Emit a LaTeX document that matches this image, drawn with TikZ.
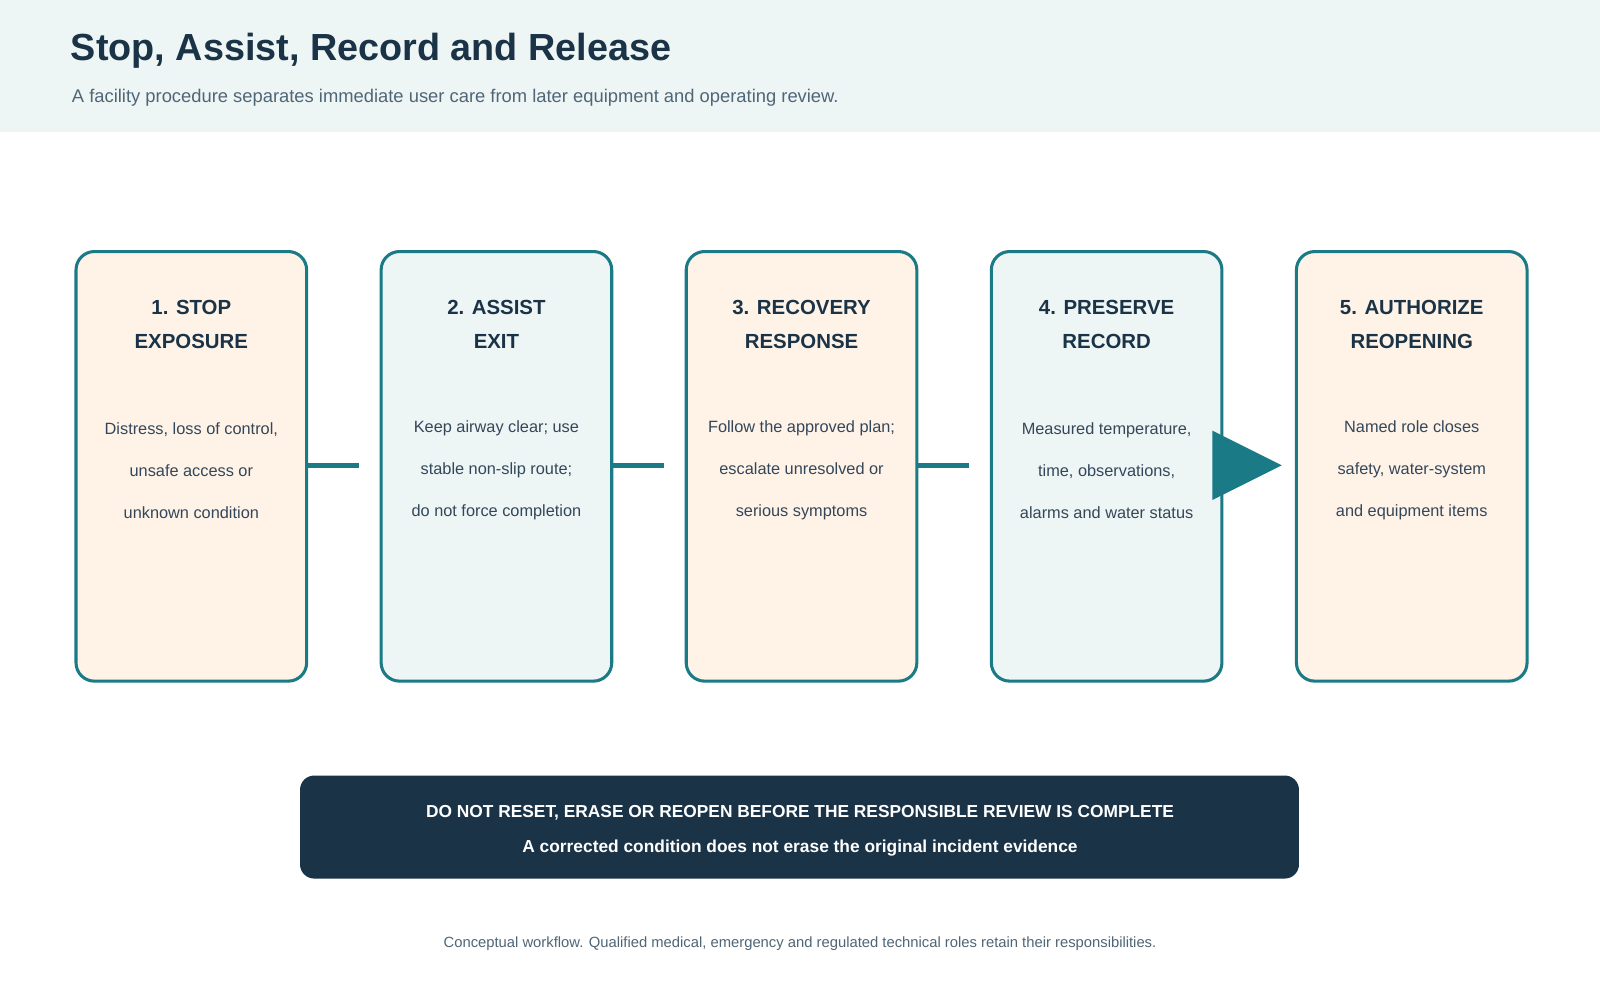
\documentclass[tikz,border=0pt]{standalone}
\usepackage{fontspec}
\setmainfont{Liberation Sans}
\usetikzlibrary{positioning}
\definecolor{ink}{HTML}{1A3347}
\definecolor{teal}{HTML}{1A7A85}
\definecolor{pale}{HTML}{EEF5F5}
\definecolor{peach}{HTML}{FFF3E8}
\definecolor{muted}{HTML}{4F6676}
\definecolor{bodytext}{HTML}{33475A}
\tikzset{
  stepcard/.style={draw=teal, line width=3pt, rounded corners=18pt, minimum width=226pt, minimum height=421pt, anchor=north west},
  cardhead/.style={font=\bfseries\fontsize{20}{34}\selectfont, text=ink, align=center},
  cardbody/.style={font=\fontsize{16}{41}\selectfont, text=bodytext, align=center},
  link/.style={draw=teal, line width=5pt},
}
\begin{document}
\begin{tikzpicture}[x=1pt, y=-1pt]
	\useasboundingbox (0,0) rectangle (1568,980);
	\fill[white] (0,0) rectangle (1568,980);
	\fill[pale]  (0,0) rectangle (1568,129);
	\node[anchor=west, font=\bfseries\fontsize{37}{40}\selectfont, text=ink] (title) at (66,50) {Stop, Assist, Record and Release};
	\node[anchor=west, font=\fontsize{18}{20}\selectfont, text=muted] (subtitle) at (67,96) {A facility procedure separates immediate user care from later equipment and operating review.};
	% cards
	\node[stepcard, fill=peach] (c1) at (73,245)   {};
	\node[stepcard, fill=pale]  (c2) at (372,245)  {};
	\node[stepcard, fill=peach] (c3) at (671,245)  {};
	\node[stepcard, fill=pale]  (c4) at (970,245)  {};
	\node[stepcard, fill=peach] (c5) at (1269,245) {};
	\node[cardhead] (h1) at (c1.north |- 0,318) {1. STOP\\EXPOSURE};
	\node[cardhead] (h2) at (c2.north |- 0,318) {2. ASSIST\\EXIT};
	\node[cardhead] (h3) at (c3.north |- 0,318) {3. RECOVERY\\RESPONSE};
	\node[cardhead] (h4) at (c4.north |- 0,318) {4. PRESERVE\\RECORD};
	\node[cardhead] (h5) at (c5.north |- 0,318) {5. AUTHORIZE\\REOPENING};
	\node[cardbody] (b1) at (c1.north |- 0,461) {Distress, loss of control,\\unsafe access or\\unknown condition};
	\node[cardbody] (b2) at (c2.north |- 0,461) {Keep airway clear; use\\stable non-slip route;\\do not force completion};
	\node[cardbody] (b3) at (c3.north |- 0,461) {Follow the approved plan;\\escalate unresolved or\\serious symptoms};
	\node[cardbody] (b4) at (c4.north |- 0,461) {Measured temperature,\\time, observations,\\alarms and water status};
	\node[cardbody] (b5) at (c5.north |- 0,461) {Named role closes\\safety, water-system\\and equipment items};
	% links
	\coordinate (e1) at (352,456);
	\coordinate (e2) at (651,456);
	\coordinate (e3) at (950,456);
	\draw[link] (c1.east |- e1) -- (e1);
	\draw[link] (c2.east |- e2) -- (e2);
	\draw[link] (c3.east |- e3) -- (e3);
	\coordinate (tip) at (1256,456);
	\fill[teal] (1188,422) -- (tip) -- (1188,490) -- cycle;
	% banner
	\fill[ink, rounded corners=14pt] (294,760) rectangle (1273,861);
	\node[font=\bfseries\fontsize{17}{20}\selectfont, text=white] (warn) at (784,797) {DO NOT RESET, ERASE OR REOPEN BEFORE THE RESPONSIBLE REVIEW IS COMPLETE};
	\node[font=\bfseries\fontsize{17}{20}\selectfont, text=white] (warn2) at (784,831) {A corrected condition does not erase the original incident evidence};
	\node[font=\fontsize{14.5}{16}\selectfont, text=muted] (foot) at (784,925) {Conceptual workflow. Qualified medical, emergency and regulated technical roles retain their responsibilities.};
\end{tikzpicture}
\end{document}
